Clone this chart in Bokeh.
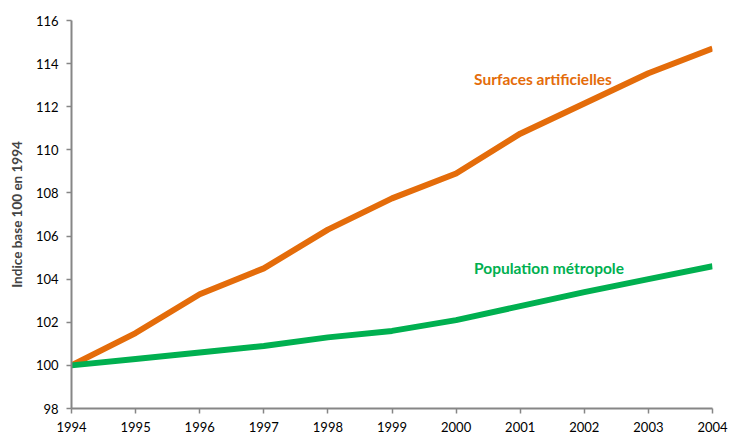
from bokeh.plotting import figure
from bokeh.models import Range1d, Label, FixedTicker
from bokeh.embed import file_html
from bokeh.resources import INLINE

years = [1994, 1995, 1996, 1997, 1998, 1999, 2000, 2001, 2002, 2003, 2004]
surfaces = [100.0, 101.5, 103.3, 104.5, 106.3, 107.75, 108.9, 110.75, 112.15, 113.55, 114.7]
population = [100.0, 100.3, 100.6, 100.9, 101.3, 101.6, 102.1, 102.75, 103.4, 104.0, 104.6]
y_ticks = [98, 100, 102, 104, 106, 108, 110, 112, 114, 116]

FONT = "Lato"
ORANGE = "#E46C0A"
GREEN = "#00B050"
AXIS = "#868686"

p = figure(width=729, height=438, output_backend="svg", toolbar_location=None,
           x_range=Range1d(1994, 2004), y_range=Range1d(98, 116),
           min_border_left=71, min_border_right=17, min_border_top=20, min_border_bottom=30)
p.outline_line_color = None
p.xgrid.visible = False
p.ygrid.visible = False

p.line(years, surfaces, line_color=ORANGE, line_width=6, line_join="round")
p.line(years, population, line_color=GREEN, line_width=6, line_join="round")

p.add_layout(Label(x=2000.28, y=112.85, text="Surfaces artificielles", text_color=ORANGE,
                   text_font=FONT, text_font_style="bold", text_font_size="15.5px"))
p.add_layout(Label(x=2000.28, y=104.1, text="Population métropole", text_color=GREEN,
                   text_font=FONT, text_font_style="bold", text_font_size="15.5px"))

for ax in (p.xaxis[0], p.yaxis[0]):
    ax.axis_line_color = AXIS
    ax.axis_line_width = 2
    ax.major_tick_line_color = AXIS
    ax.major_tick_line_width = 1.5
    ax.major_tick_out = 5
    ax.major_tick_in = 0
    ax.minor_tick_line_color = None
    ax.major_label_text_font = FONT
    ax.major_label_text_font_size = "13px"
    ax.major_label_text_color = "#000000"

p.xaxis.ticker = FixedTicker(ticks=years)
p.yaxis.ticker = FixedTicker(ticks=y_ticks)
p.xaxis.major_label_standoff = 8
p.yaxis.major_label_standoff = 8
p.yaxis.axis_label = "Indice base 100 en 1994"
p.yaxis.axis_label_text_font = FONT
p.yaxis.axis_label_text_font_style = "bold"
p.yaxis.axis_label_text_font_size = "13.5px"
p.yaxis.axis_label_standoff = 8

open("out.html", "w").write(file_html(p, INLINE))
